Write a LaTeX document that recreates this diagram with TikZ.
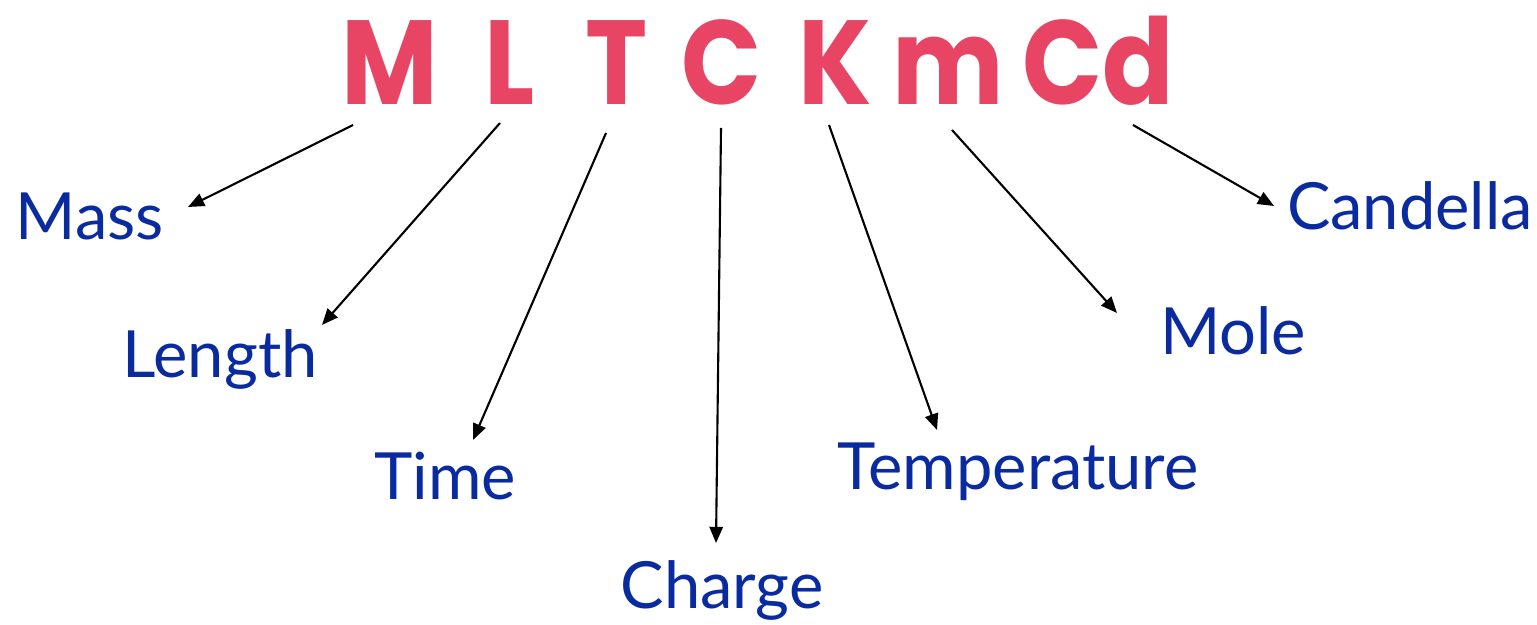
\documentclass[tikz,border=0pt]{standalone}
\usepackage{fontspec}
\setmainfont{Lato}
\newfontfamily\bigfont[FakeStretch=0.88]{Poppins}
\usetikzlibrary{arrows.meta}
\definecolor{pinkred}{HTML}{E84464}
\definecolor{darkblue}{HTML}{0A2AA0}
\tikzset{
  big/.style={text=pinkred, font=\bigfont\fontsize{34}{40}\selectfont\bfseries, anchor=base, inner sep=0pt},
  lab/.style={text=darkblue, font=\fontsize{18.5}{22}\selectfont, anchor=base, inner sep=0pt},
  arr/.style={-{Triangle[length=4.6pt,width=3.8pt]}, line width=0.6pt, black}
}
\begin{document}
\begin{tikzpicture}[x=0.01cm,y=-0.01cm]
\useasboundingbox (0,0) rectangle (1537,625);
\node[big] (M) at (390,105) {M};
\node[big] (L) at (510,105) {L};
\node[big] (T) at (617,105) {T};
\node[big] (C) at (722,105) {C};
\node[big] (K) at (835,105) {K};
\node[big] (m) at (948,105) {m};
\node[big] (Cd) at (1098,105) {Cd};

\node[lab] (mass) at (90,240) {Mass};
\node[lab] (length) at (220,378) {Length};
\node[lab] (time) at (445,500) {Time};
\node[lab] (charge) at (722,608) {Charge};
\node[lab] (temp) at (1018,490) {Temperature};
\node[lab] (mole) at (1233,355) {Mole};
\node[lab] (cand) at (1410,230) {Candella};

\coordinate (s1) at (353,125); \coordinate (e1) at (188,207);
\coordinate (s2) at (500,123); \coordinate (e2) at (322,325);
\coordinate (s3) at (606,133); \coordinate (e3) at (473,440);
\coordinate (s4) at (721,128); \coordinate (e4) at (716,543);
\coordinate (s5) at (829,125); \coordinate (e5) at (937,430);
\coordinate (s6) at (952,130); \coordinate (e6) at (1117,313);
\coordinate (s7) at (1133,125); \coordinate (e7) at (1274,206);
\foreach \i in {1,...,7} \draw[arr] (s\i) -- (e\i);
\end{tikzpicture}
\end{document}
